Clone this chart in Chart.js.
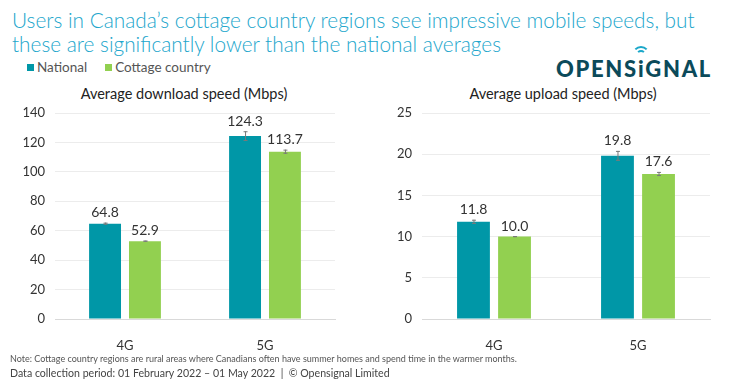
<!DOCTYPE html>
<html>
<head>
<meta charset="utf-8">
<script src="https://cdn.jsdelivr.net/npm/chart.js@4"></script>
<style>
  body { margin: 0; width: 730px; height: 383px; background: #fff; font-family: Lato, sans-serif; position: relative; overflow: hidden; }
  .title { position: absolute; left: 12px; top: 8px; font-size: 20.8px; font-weight: 300; color: #22a6cc; line-height: 24px; }
  .legend { position: absolute; left: 27px; top: 59px; font-size: 13.5px; color: #555; }
  .legend span { margin-right: 18px; }
  .legend i { display: inline-block; width: 7px; height: 7px; margin-right: 3px; vertical-align: 1px; }
  .logo { position: absolute; left: 556px; top: 55px; font-size: 22px; font-weight: 900; color: #0b4a5a; letter-spacing: 1.7px; }
  .logo .dot { position: relative; }
  .logo .wifi { position: absolute; border: 2px solid #1aa7c9; border-color: #1aa7c9 transparent transparent transparent; border-radius: 50%; }
  .sub { position: absolute; top: 85px; font-size: 14.5px; color: #222; white-space: nowrap; transform: translateX(-50%); }
  .note { position: absolute; left: 10px; top: 353px; font-size: 9px; color: #555; }
  .period { position: absolute; left: 10px; top: 367px; font-size: 10.6px; color: #444; }
  .box { position: absolute; top: 86px; height: 275px; }
</style>
</head>
<body>
<div class="title">Users in Canada’s cottage country regions see impressive mobile speeds, but<br>these are significantly lower than the national averages</div>
<div class="legend"><span><i style="background:#0097a7"></i>National</span><span><i style="background:#92d050"></i>Cottage country</span></div>
<div class="logo">OPENS<span class="dot">i<span class="wifi" style="left:-2px;top:-5px;width:6px;height:6px"></span><span class="wifi" style="left:-6px;top:-9px;width:14px;height:14px"></span></span>GNAL</div>
<div class="sub" style="left:184px">Average download speed (Mbps)</div>
<div class="sub" style="left:563px">Average upload speed (Mbps)</div>
<div class="box" style="left:0;width:345px"><canvas id="downloadChart"></canvas></div>
<div class="box" style="left:370px;width:350px"><canvas id="uploadChart"></canvas></div>
<div class="note">Note: Cottage country regions are rural areas where Canadians often have summer homes and spend time in the warmer months.</div>
<div class="period">Data collection period: 01 February 2022 – 01 May 2022 &nbsp;|&nbsp; © Opensignal Limited</div>

<script>
// Chart data
const technologies = ['4G', '5G'];
const seriesNames = ['National', 'Cottage country'];
const downloadNational = [64.8, 124.3];
const downloadCottage = [52.9, 113.7];
const downloadNationalErr = [0.7, 3.3];
const downloadCottageErr = [0.3, 1.4];
const uploadNational = [11.8, 19.8];
const uploadCottage = [10.0, 17.6];
const uploadNationalErr = [0.25, 0.6];
const uploadCottageErr = [0.06, 0.25];

const colors = ['#0097a7', '#92d050'];

// Draws confidence whiskers and the value labels above each bar
const barExtras = {
    id: 'barExtras',
    afterDatasetsDraw(chart) {
        const ctx = chart.ctx;
        const yScale = chart.scales.y;
        chart.data.datasets.forEach((ds, i) => {
            const meta = chart.getDatasetMeta(i);
            meta.data.forEach((bar, j) => {
                const v = ds.data[j];
                const err = ds.errors[j];
                const top = yScale.getPixelForValue(v + err);
                const bottom = yScale.getPixelForValue(v - err);
                ctx.save();
                ctx.strokeStyle = '#7a7a7a';
                ctx.lineWidth = 1;
                ctx.beginPath();
                ctx.moveTo(bar.x + 0.5, top);
                ctx.lineTo(bar.x + 0.5, bottom);
                ctx.moveTo(bar.x - 1.5, top + 0.5);
                ctx.lineTo(bar.x + 2.5, top + 0.5);
                ctx.moveTo(bar.x - 1.5, bottom - 0.5);
                ctx.lineTo(bar.x + 2.5, bottom - 0.5);
                ctx.stroke();
                ctx.fillStyle = '#333';
                ctx.font = '14px Lato';
                ctx.textAlign = 'center';
                ctx.textBaseline = 'bottom';
                ctx.fillText(v.toFixed(1), bar.x, Math.min(top, bar.y) - 3);
                ctx.restore();
            });
        });
    }
};

function makeChart(id, national, cottage, nationalErr, cottageErr, max, step, axisWidth) {
    const ctx = document.getElementById(id).getContext('2d');
    return new Chart(ctx, {
        type: 'bar',
        data: {
            labels: technologies,
            datasets: [{
                label: seriesNames[0],
                data: national,
                errors: nationalErr,
                backgroundColor: colors[0],
                barPercentage: 0.8,
                categoryPercentage: 0.57
            }, {
                label: seriesNames[1],
                data: cottage,
                errors: cottageErr,
                backgroundColor: colors[1],
                barPercentage: 0.8,
                categoryPercentage: 0.57
            }]
        },
        options: {
            responsive: true,
            maintainAspectRatio: false,
            animation: false,
            layout: { padding: { right: 10, left: 0, top: 27, bottom: 0 } },
            plugins: {
                legend: { display: false },
                tooltip: { enabled: false }
            },
            scales: {
                x: {
                    grid: { display: false },
                    border: { color: '#d9d9d9' },
                    ticks: { color: '#333', font: { family: 'Lato', size: 13 }, padding: 11 },
                    afterFit: s => { s.height = 42; }
                },
                y: {
                    min: 0,
                    max: max,
                    ticks: { stepSize: step, color: '#333', font: { family: 'Lato', size: 13 }, padding: 10 },
                    grid: { color: '#ececec', drawTicks: false },
                    border: { display: false },
                    afterFit: s => { s.width = axisWidth; }
                }
            }
        },
        plugins: [barExtras]
    });
}

makeChart('downloadChart', downloadNational, downloadCottage,
    downloadNationalErr, downloadCottageErr, 140, 20, 55);
makeChart('uploadChart', uploadNational, uploadCottage,
    uploadNationalErr, uploadCottageErr, 25, 5, 52);
</script>
</body>
</html>
